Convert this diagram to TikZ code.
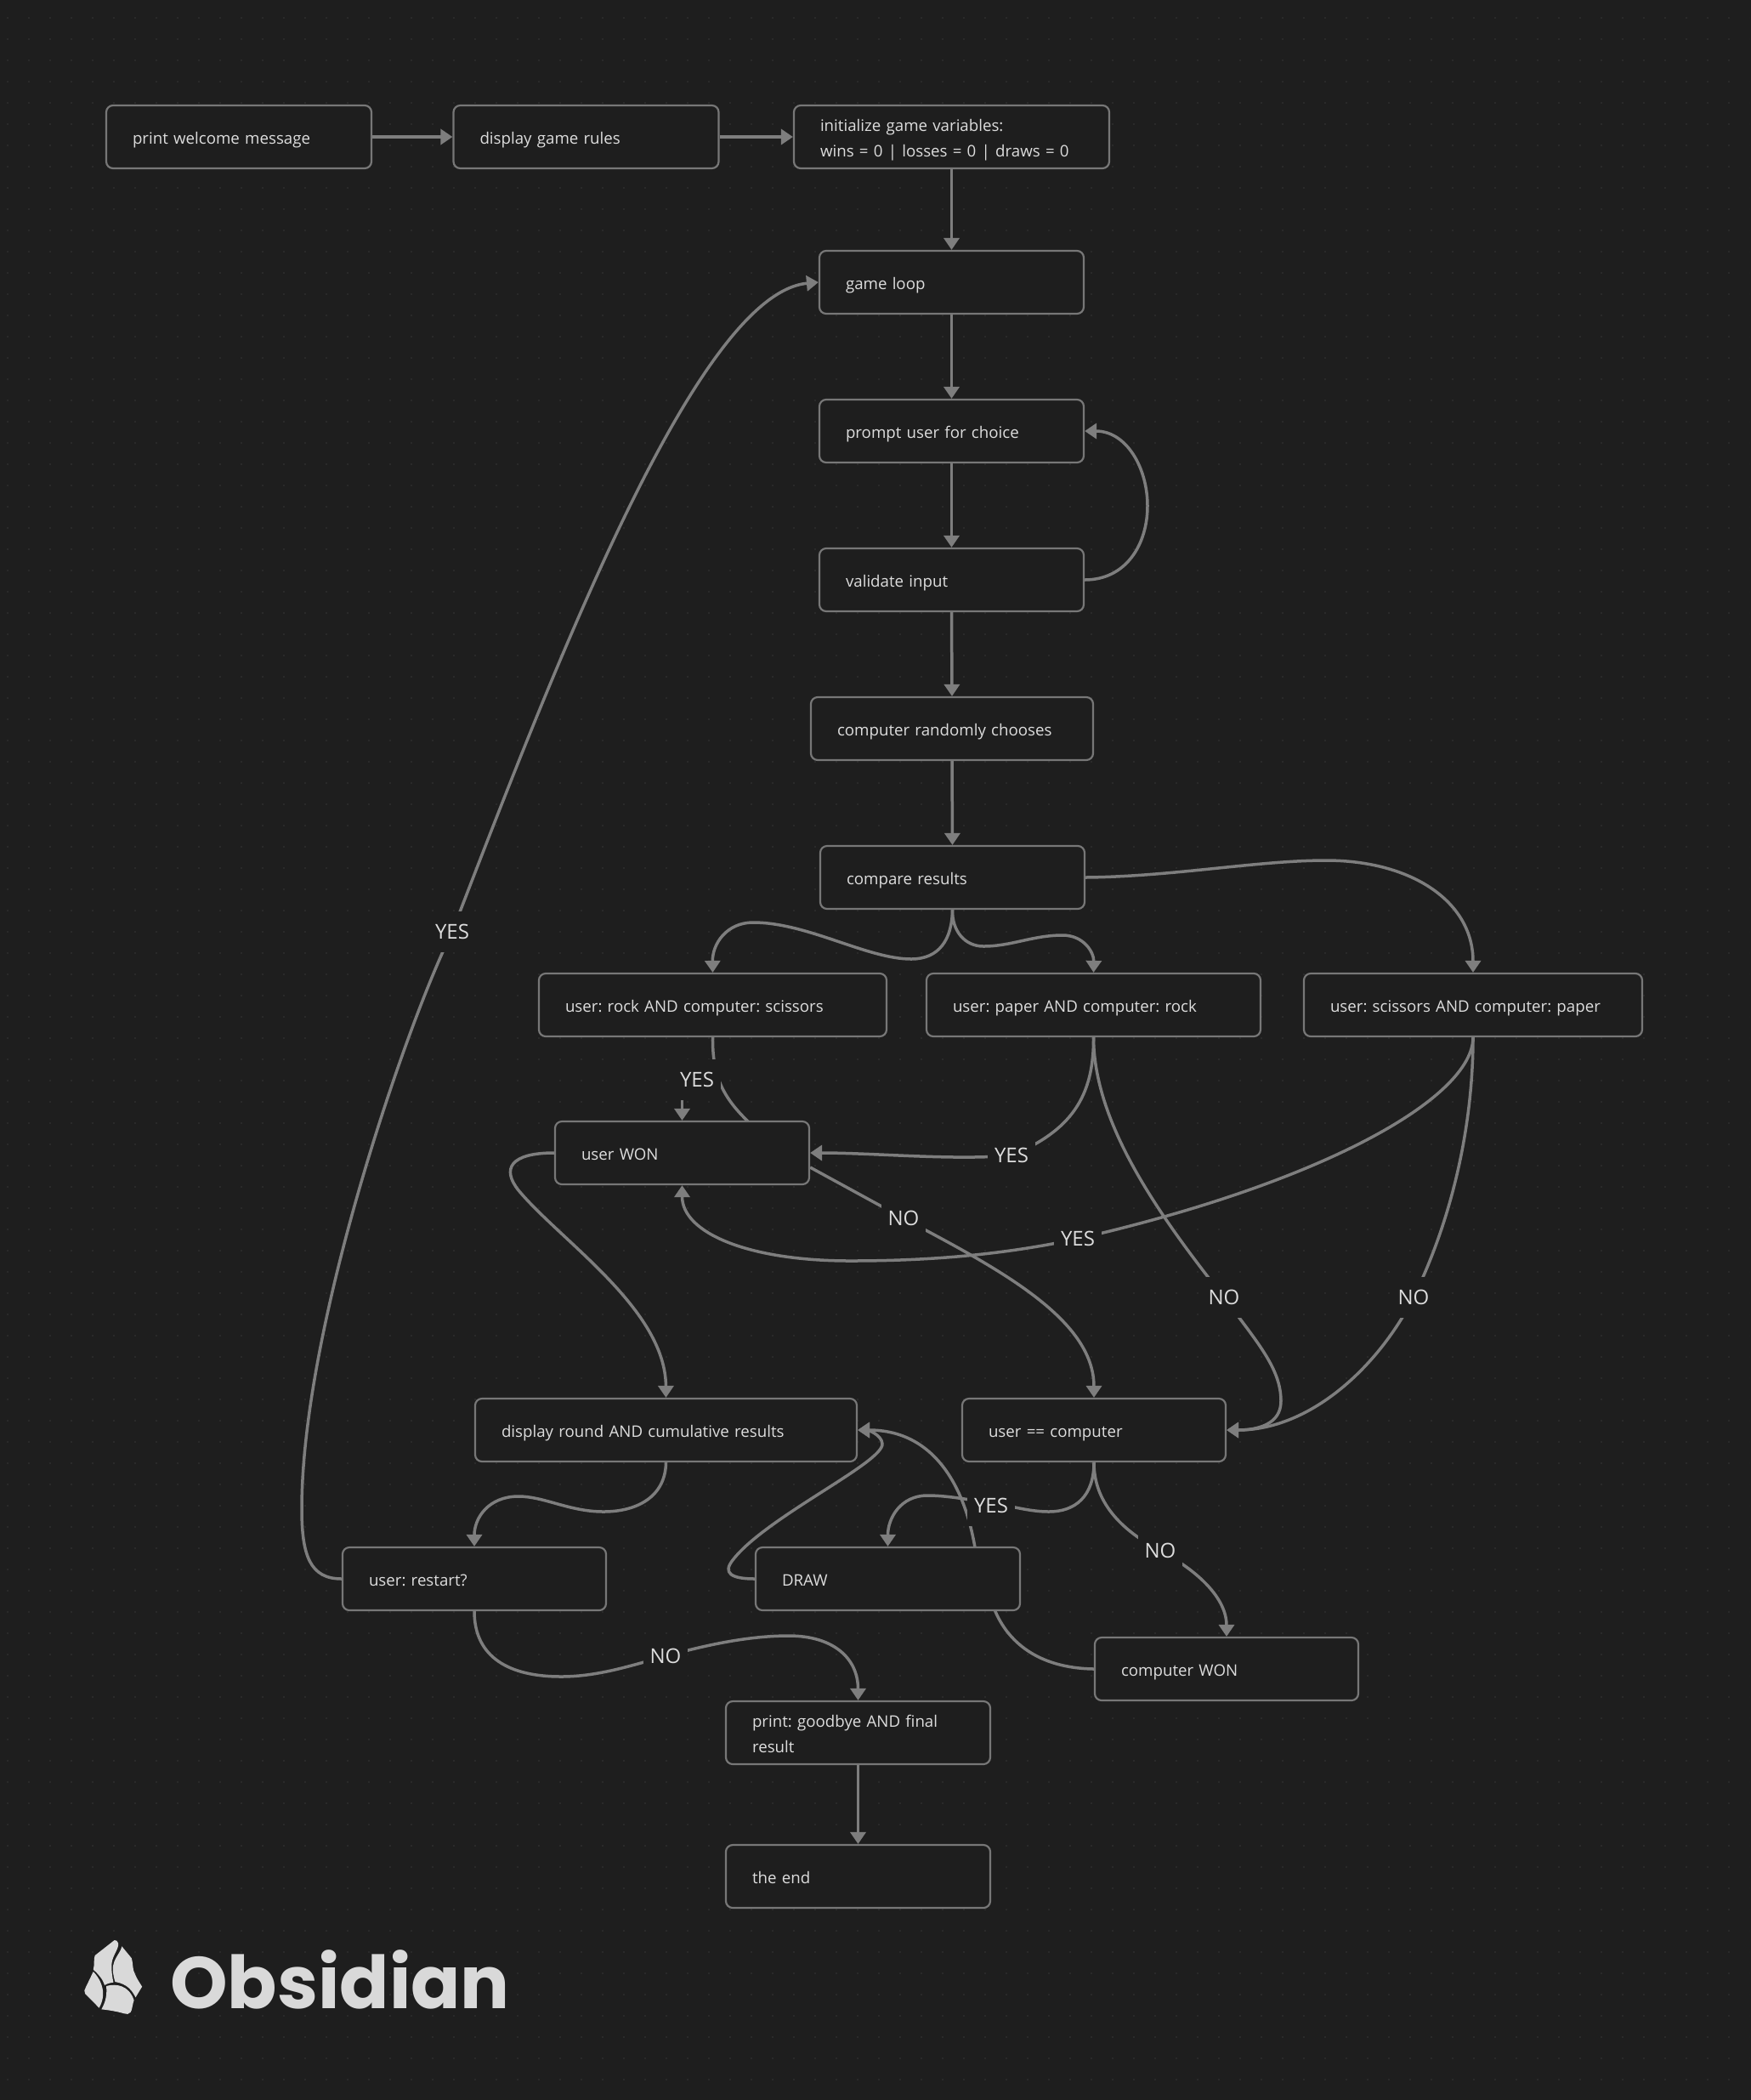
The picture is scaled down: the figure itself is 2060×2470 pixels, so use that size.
\documentclass[tikz,border=0pt]{standalone}
\usepackage{fontspec}
\setmainfont{Open Sans}
\newfontfamily\logofont{Poppins}
\usetikzlibrary{arrows.meta,calc}
\definecolor{bgc}{HTML}{1E1E1E}
\definecolor{dotc}{HTML}{2A2A2A}
\definecolor{linec}{HTML}{7E7E7E}
\definecolor{boxc}{HTML}{777777}
\definecolor{txtc}{HTML}{DDDDDD}
\definecolor{logoc}{HTML}{D9D9D9}
\pgfdeclarelayer{backdrop}
\pgfdeclarelayer{edgelayer}
\pgfdeclarelayer{labellayer}
\pgfsetlayers{backdrop,edgelayer,main,labellayer}
\tikzset{
  box/.style={draw=boxc,line width=1.1pt,fill=bgc,rounded corners=4pt,text=txtc,
    font=\fontsize{9.35}{15}\selectfont\frenchspacing,align=left,inner xsep=15.5pt,inner ysep=0pt,
    minimum height=37pt,text width=#1*0.5pt-31pt,
    execute at begin node={\leavevmode\rule{0pt}{12.6pt}},
    execute at end node={\rule[-4pt]{0pt}{4pt}}},
  edge/.style={draw=linec,line width=1.75pt},
  arrowedge/.style={edge,-{Triangle[length=7pt,width=9pt]}},
  lab/.style={fill=bgc,text=txtc,font=\fontsize{12}{16}\selectfont,inner xsep=4pt,inner ysep=0pt,minimum height=24pt},
}
\begin{document}
\begin{tikzpicture}[x=0.5pt,y=-0.5pt]
\useasboundingbox (0,0) rectangle (2060,2470);
\begin{pgfonlayer}{backdrop}
\fill[bgc] (0,0) rectangle (2060,2470);
\foreach \j in {0,...,97}{\draw[dotc,line width=1pt,dash pattern=on 1pt off 11.5pt] (8,{21+25*\j}) -- (2058,{21+25*\j});}
\end{pgfonlayer}
% nodes
\node[box=312] (welcome) at (281,161) {print welcome message};
\node[box=312] (rules) at (689.5,161) {display game rules};
\node[box=371] (init) at (1119.5,161) {initialize game variables:\\wins = 0 | losses = 0 | draws = 0};
\node[box=311] (loop) at (1119.5,332) {game loop};
\node[box=311] (prompt) at (1119.5,507) {prompt user for choice};
\node[box=311] (validate) at (1119.5,682) {validate input};
\node[box=332] (choose) at (1120,857) {computer randomly chooses};
\node[box=311] (compare) at (1120.5,1032) {compare results};
\node[box=409] (rock) at (838.5,1182) {user: rock AND computer: scissors};
\node[box=393] (paper) at (1286.5,1182) {user: paper AND computer: rock};
\node[box=398] (sciss) at (1733,1182) {user: scissors AND computer: paper};
\node[box=299] (won) at (802.5,1356) {user WON};
\node[box=449] (round) at (783.5,1682) {display round AND cumulative results};
\node[box=310] (ucomp) at (1287,1682) {user == computer};
\node[box=311] (drawn) at (1044.5,1857) {DRAW};
\node[box=310] (cwon) at (1443,1963) {computer WON};
\node[box=310] (restart) at (558,1857) {user: restart?};
\node[box=311] (bye) at (1009.5,2038) {print: goodbye AND final\\result};
\node[box=311] (theend) at (1009.5,2207) {the end};
% labels
\begin{pgfonlayer}{labellayer}
\node[lab] (l1) at (532,1096) {YES};
\node[lab] (l2) at (820,1270) {YES};
\node[lab] (l3) at (1190,1359) {YES};
\node[lab] (l4) at (1268,1457) {YES};
\node[lab] (l5) at (1063,1433) {NO};
\node[lab] (l6) at (1440,1526) {NO};
\node[lab] (l7) at (1663,1526) {NO};
\node[lab] (l8) at (1166,1771) {YES};
\node[lab] (l9) at (1365,1824) {NO};
\node[lab] (l10) at (783,1948) {NO};
\end{pgfonlayer}
% connectors
\begin{pgfonlayer}{edgelayer}
\draw[arrowedge] (welcome.east) -- (rules.west);
\draw[arrowedge] (rules.east) -- (init.west);
\draw[arrowedge] (init.south) -- (loop.north);
\draw[arrowedge] (loop.south) -- (prompt.north);
\draw[arrowedge] (prompt.south) -- (validate.north);
\draw[arrowedge] (validate.south) -- (choose.north);
\draw[arrowedge] (choose.south) -- (compare.north);
\draw[arrowedge] (bye.south) -- (theend.north);
\draw[arrowedge] (validate.east) .. controls (1325,682) and (1350,640) .. (1350,595) .. controls (1350,550) and (1325,507) .. (prompt.east);
\draw[arrowedge] (compare.east) .. controls (1380,1031) and (1480,1012) .. (1560,1012) .. controls (1660,1012) and (1733,1060) .. (sciss.north);
\draw[arrowedge] (compare.south) .. controls (1120,1105) and (1105,1128) .. (1072,1128) .. controls (1020,1128) and (950,1085) .. (886,1085) .. controls (855,1085) and (838,1110) .. (rock.north);
\draw[arrowedge] (compare.south) .. controls (1120,1095) and (1135,1113) .. (1157,1113) .. controls (1190,1113) and (1215,1100) .. (1250,1100) .. controls (1275,1100) and (1287,1120) .. (paper.north);
\draw[edge] (rock.south) .. controls (838,1265) and (850,1290) .. (880,1319) -- (won.center);
\draw[arrowedge] ($(won.north)+(0,-40)$) -- (won.north);
\draw[arrowedge] (paper.south) .. controls (1287,1290) and (1260,1330) .. (l3.center) .. controls (1120,1365) and (1030,1356) .. (won.east);
\draw[edge] (paper.south) .. controls (1287,1320) and (1360,1425) .. (l6.center) .. controls (1480,1580) and (1507,1610) .. (1507,1648);
\draw[arrowedge] (1507,1648) .. controls (1507,1675) and (1480,1682) .. (ucomp.east);
\draw[arrowedge] (sciss.south) .. controls (1733,1290) and (1560,1390) .. (l4.center) .. controls (1170,1478) and (1080,1483) .. (1000,1483) .. controls (880,1483) and (802.5,1450) .. (won.south);
\draw[arrowedge] (sciss.south) .. controls (1733,1320) and (1710,1430) .. (l7.center) .. controls (1620,1610) and (1540,1682) .. (ucomp.east);
\draw[arrowedge] ($(won.east)+(0,17)$) -- (l5.center) .. controls (1170,1490) and (1287,1550) .. (ucomp.north);
\draw[arrowedge] (won.west) .. controls (600,1356) and (590,1375) .. (610,1400) .. controls (660,1460) and (783,1540) .. (round.north);
\draw[arrowedge] (round.south) .. controls (783,1760) and (750,1778) .. (710,1778) .. controls (670,1778) and (640,1760) .. (610,1760) .. controls (575,1760) and (558,1785) .. (restart.north);
\draw[arrowedge] (ucomp.south) .. controls (1287,1760) and (1265,1778) .. (1234,1778) .. controls (1210,1778) and (1190,1771) .. (1166,1768) .. controls (1140,1764) and (1115,1759) .. (1091,1759) .. controls (1060,1759) and (1044.5,1785) .. (drawn.north);
\draw[arrowedge] (ucomp.south) .. controls (1287,1760) and (1310,1795) .. (l9.center) .. controls (1410,1848) and (1443,1880) .. (cwon.north);
\draw[arrowedge] (drawn.west) .. controls (860,1857) and (850,1850) .. (862,1835) .. controls (900,1785) and (1040,1720) .. (1038,1698) .. controls (1037,1687) and (1020,1682) .. (round.east);
\draw[arrowedge] (cwon.west) .. controls (1220,1962) and (1185,1930) .. (1170,1893) .. controls (1160,1865) and (1152,1845) .. (1147,1820) .. controls (1135,1750) and (1100,1682) .. (round.east);
\draw[arrowedge] (restart.south) .. controls (558,1950) and (600,1972) .. (660,1972) .. controls (705,1972) and (745,1958) .. (l10.center) .. controls (830,1935) and (880,1924) .. (928,1924) .. controls (980,1924) and (1009.5,1950) .. (bye.north);
\draw[arrowedge] (restart.west) .. controls (365,1857) and (355,1830) .. (355,1775) .. controls (355,1560) and (480,1200) .. (l1.center) .. controls (650,790) and (820,345) .. (loop.west);
\end{pgfonlayer}
% logo
\begin{scope}[shift={(60,2220)},xscale=0.3827,yscale=0.3333]
\fill[logoc] (195,186) .. controls (200,184) and (205,190) .. (207,197) .. controls (209,215) and (190,240) .. (187,265) .. controls (185,290) and (188,315) .. (192,335) .. controls (180,337) and (170,340) .. (165,345) .. controls (160,325) and (145,305) .. (130,290) .. controls (135,270) and (130,255) .. (135,240) -- cycle;
\fill[logoc] (218,208) -- (248,250) .. controls (253,270) and (250,290) .. (258,305) .. controls (265,325) and (275,340) .. (280,350) -- (260,388) .. controls (250,365) and (235,340) .. (197,333) .. controls (190,305) and (187,280) .. (195,260) .. controls (202,240) and (215,225) .. (218,208) -- cycle;
\fill[logoc] (170,348) .. controls (200,338) and (240,345) .. (255,398) .. controls (250,415) and (250,430) .. (245,440) .. controls (240,448) and (232,448) .. (225,445) .. controls (205,438) and (180,433) .. (155,430) .. controls (170,400) and (172,375) .. (170,348) -- cycle;
\fill[logoc] (130,297) .. controls (150,320) and (160,350) .. (160,375) .. controls (160,395) and (155,410) .. (148,425) -- (105,375) .. controls (100,368) and (103,360) .. (107,352) -- cycle;
\end{scope}
\node[inner sep=0pt,anchor=west,text=logoc,font=\logofont\bfseries\fontsize{43}{50}\selectfont] (wordmark) at (200,2328) {Obsidian};
\end{tikzpicture}
\end{document}
